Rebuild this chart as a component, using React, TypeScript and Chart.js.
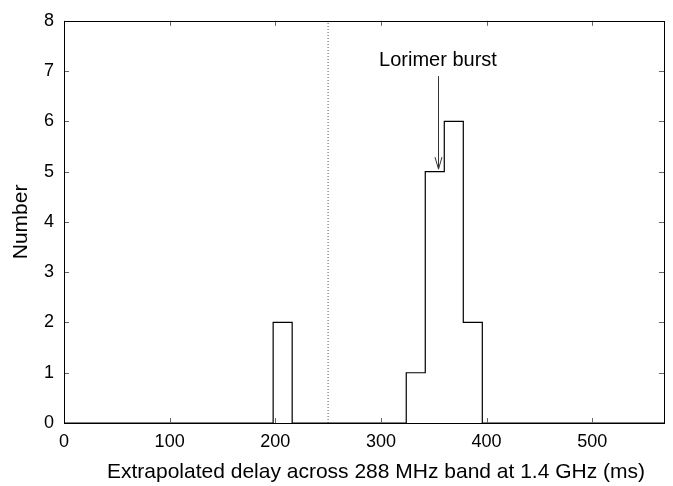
import React, { useEffect, useRef } from "react";
import { Chart, registerables } from "chart.js";

Chart.register(...registerables);

// Histogram bin edges (ms) and counts (value holds from edge until next edge)
const binEdges = [0, 198, 216, 324, 342, 360, 378, 396, 568];
const binCounts = [0, 2, 0, 1, 5, 6, 2, 0, 0];

const xTickValues = [0, 100, 200, 300, 400, 500];
const yTickValues = [0, 1, 2, 3, 4, 5, 6, 7, 8];
const xMin = 0;
const xMax = 568;
const yMin = 0;
const yMax = 8;

const cutoffX = [250, 250];
const cutoffY = [0, 8];

const annotationText = "Lorimer burst";
const arrowX = 354;
const arrowFromY = 6.9;
const arrowToY = 5.05;
const labelY = 7.22;

const xTitle = "Extrapolated delay across 288 MHz band at 1.4 GHz (ms)";
const yTitle = "Number";

const FONT = "'Liberation Sans', Arial, Helvetica, sans-serif";

const framePlugin = {
  id: "frameTicks",
  afterDatasetsDraw(chart: any) {
    const { ctx, chartArea } = chart;
    const xs = chart.scales.x;
    const ys = chart.scales.y;
    const { left, right, top, bottom } = chartArea;
    ctx.save();
    // inward ticks
    ctx.strokeStyle = "#666";
    ctx.lineWidth = 1;
    const tl = 5;
    ctx.beginPath();
    xTickValues.forEach((v) => {
      const px = Math.round(xs.getPixelForValue(v)) + 0.5;
      ctx.moveTo(px, bottom);
      ctx.lineTo(px, bottom - tl);
      ctx.moveTo(px, top);
      ctx.lineTo(px, top + tl);
    });
    yTickValues.forEach((v) => {
      const py = Math.round(ys.getPixelForValue(v)) + 0.5;
      ctx.moveTo(left, py);
      ctx.lineTo(left + tl, py);
      ctx.moveTo(right, py);
      ctx.lineTo(right - tl, py);
    });
    ctx.stroke();
    // frame
    ctx.strokeStyle = "#000";
    ctx.lineWidth = 1;
    ctx.strokeRect(Math.round(left) + 0.5, Math.round(top) + 0.5, Math.round(right - left), Math.round(bottom - top));
    // arrow
    const ax = Math.round(xs.getPixelForValue(arrowX)) + 0.5;
    const ay1 = ys.getPixelForValue(arrowFromY);
    const ay2 = ys.getPixelForValue(arrowToY);
    ctx.strokeStyle = "#333";
    ctx.lineWidth = 1;
    ctx.beginPath();
    ctx.moveTo(ax, ay1);
    ctx.lineTo(ax, ay2);
    ctx.moveTo(ax - 3.5, ay2 - 12);
    ctx.lineTo(ax, ay2);
    ctx.lineTo(ax + 3.5, ay2 - 12);
    ctx.stroke();
    // label
    ctx.fillStyle = "#000";
    ctx.font = `20px ${FONT}`;
    ctx.textAlign = "center";
    ctx.textBaseline = "middle";
    ctx.fillText(annotationText, xs.getPixelForValue(arrowX), ys.getPixelForValue(labelY));
    // x axis title (slightly right of centre, as in the reference)
    ctx.font = `21px ${FONT}`;
    ctx.fillText(xTitle, (left + right) / 2 + 12, 472);
    ctx.restore();
  },
};

export default function App() {
  const ref = useRef<HTMLCanvasElement | null>(null);
  useEffect(() => {
    if (!ref.current) return;
    const chart = new Chart(ref.current, {
      type: "line",
      data: {
        datasets: [
          {
            label: "histogram",
            data: binEdges.map((x, i) => ({ x, y: binCounts[i] })),
            stepped: "before",
            borderColor: "#000",
            borderWidth: 1.2,
            pointRadius: 0,
            fill: false,
            clip: false as any,
          },
          {
            label: "cutoff",
            data: cutoffX.map((x, i) => ({ x, y: cutoffY[i] })),
            borderColor: "#555",
            borderWidth: 1,
            borderDash: [1, 2],
            pointRadius: 0,
            fill: false,
          },
        ],
      },
      options: {
        animation: false,
        responsive: false,
        events: [],
        layout: { padding: { top: 12, right: 9, left: 0, bottom: 0 } },
        plugins: {
          legend: { display: false },
          tooltip: { enabled: false },
        },
        scales: {
          x: {
            type: "linear",
            min: xMin,
            max: xMax,
            grid: { display: false, drawTicks: false },
            border: { display: false },
            afterBuildTicks: (s: any) => {
              s.ticks = xTickValues.map((v) => ({ value: v }));
            },
            afterFit: (s: any) => {
              s.height = 63;
            },
            ticks: {
              padding: 8,
              color: "#000",
              maxRotation: 0,
              font: { family: FONT, size: 18 },
            },
            title: { display: false, text: xTitle },
          },
          y: {
            type: "linear",
            min: yMin,
            max: yMax,
            grid: { display: false, drawTicks: false },
            border: { display: false },
            afterBuildTicks: (s: any) => {
              s.ticks = yTickValues.map((v) => ({ value: v }));
            },
            afterFit: (s: any) => {
              s.width = 64;
            },
            ticks: {
              padding: 10,
              color: "#000",
              font: { family: FONT, size: 18 },
            },
            title: {
              display: true,
              text: yTitle,
              color: "#000",
              font: { family: FONT, size: 21 },
              padding: { top: 9, bottom: 0 },
            },
          },
        },
      },
      plugins: [framePlugin],
    });
    return () => chart.destroy();
  }, []);
  return (
    <div style={{ position: "fixed", left: 0, top: 0, width: 673, height: 486, background: "#fff" }}>
      <canvas ref={ref} width={673} height={486} style={{ width: 673, height: 486 }} />
    </div>
  );
}
